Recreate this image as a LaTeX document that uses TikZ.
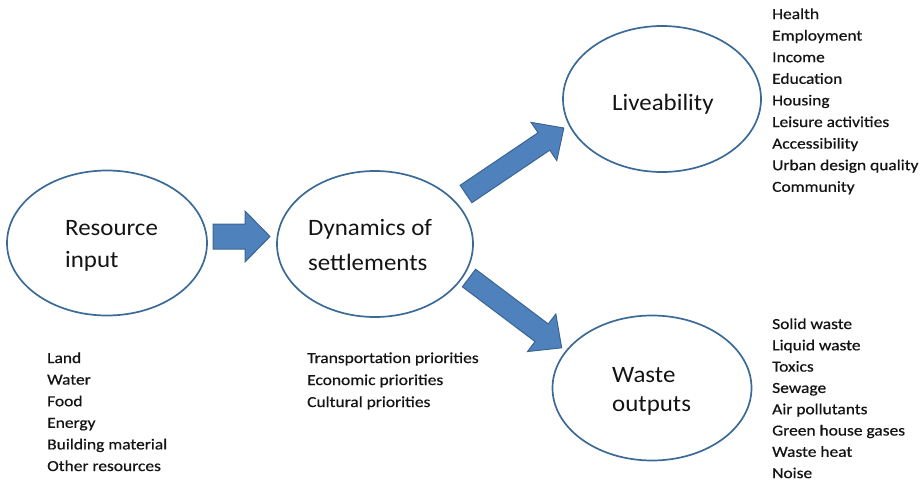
\documentclass[tikz,border=0pt]{standalone}
\usepackage{fontspec}
\setmainfont{Carlito}
\newfontfamily\labelfont[FakeStretch=1.06]{Carlito}
\newfontfamily\listfont[FakeStretch=1.14, FakeBold=0.6]{Carlito}
\usetikzlibrary{shapes.geometric}
\definecolor{ringblue}{HTML}{3C6A96}
\definecolor{arrowfill}{HTML}{4F81BD}
\definecolor{arrowedge}{HTML}{3A6591}
\definecolor{txt}{HTML}{141414}

% block arrow along +x: length, shaft width, head width, head length
\newcommand\flowarrow[4]{%
  \draw[blockarrow] (0,-#2/2) -- ({#1-#4},-#2/2) -- ({#1-#4},-#3/2) -- (#1,0)
    -- ({#1-#4},#3/2) -- ({#1-#4},#2/2) -- (0,#2/2) -- cycle;}

\begin{document}
\begin{tikzpicture}[x=1pt,y=1pt,
  ring/.style={ellipse, draw=ringblue, line width=1.7pt, inner sep=0},
  bigtxt/.style={anchor=base west, inner sep=0, font=\labelfont\fontsize{23.5}{28}\selectfont, text=txt},
  listtxt/.style={anchor=base west, inner sep=0, font=\listfont\fontsize{15.3}{18}\selectfont, text=txt},
  blockarrow/.style={fill=arrowfill, draw=arrowedge, line width=1pt, line join=miter}]
\useasboundingbox (0,0) rectangle (923,-482);

% the four stages
\node[ring, minimum width=200pt, minimum height=145pt] (res) at (107,-243) {};
\node[ring, minimum width=196pt, minimum height=146pt] (dyn) at (375,-244) {};
\node[ring, minimum width=198pt, minimum height=146pt] (live) at (662,-99) {};
\node[ring, minimum width=199pt, minimum height=145pt] (waste) at (652,-388) {};

\node[bigtxt] (resA) at (65,-235) {Resource};
\node[bigtxt] (resB) at (65,-267) {input};
\node[bigtxt] (dynA) at (308,-235) {Dynamics of};
\node[bigtxt] (dynB) at (308,-270) {settlements};
\node[bigtxt] (liveA) at (612,-110) {Liveability};
\node[bigtxt] (wasteA) at (612,-382) {Waste};
\node[bigtxt] (wasteB) at (612,-411) {outputs};

% flow arrows between the stages
\coordinate (a1) at (213,-236.5);
\coordinate (a2) at (466,-194);
\coordinate (a3) at (469,-278);
\begin{scope}[shift={(a1)}] \flowarrow{57}{25}{51}{25} \end{scope}
\begin{scope}[shift={(a2)}, rotate=34] \flowarrow{118}{21}{46}{24} \end{scope}
\begin{scope}[shift={(a3)}, rotate=-37] \flowarrow{116}{22}{47}{25} \end{scope}

% item lists
\foreach \t [count=\i from 0] in {Land, Water, Food, Energy, Building material, Other resources}
  \node[listtxt] (in\i) at (47,{-363-21.6*\i}) {\t};
\foreach \t [count=\i from 0] in {Transportation priorities, Economic priorities, Cultural priorities}
  \node[listtxt] (pr\i) at (307,{-363-22*\i}) {\t};
\foreach \t [count=\i from 0] in {Health, Employment, Income, Education, Housing, Leisure activities, Accessibility, Urban design quality, Community}
  \node[listtxt] (lv\i) at (772,{-19-21.6*\i}) {\t};
\foreach \t [count=\i from 0] in {Solid waste, Liquid waste, Toxics, Sewage, Air pollutants, Green house gases, Waste heat, Noise}
  \node[listtxt] (ws\i) at (772,{-329-21.3*\i}) {\t};
\end{tikzpicture}
\end{document}
